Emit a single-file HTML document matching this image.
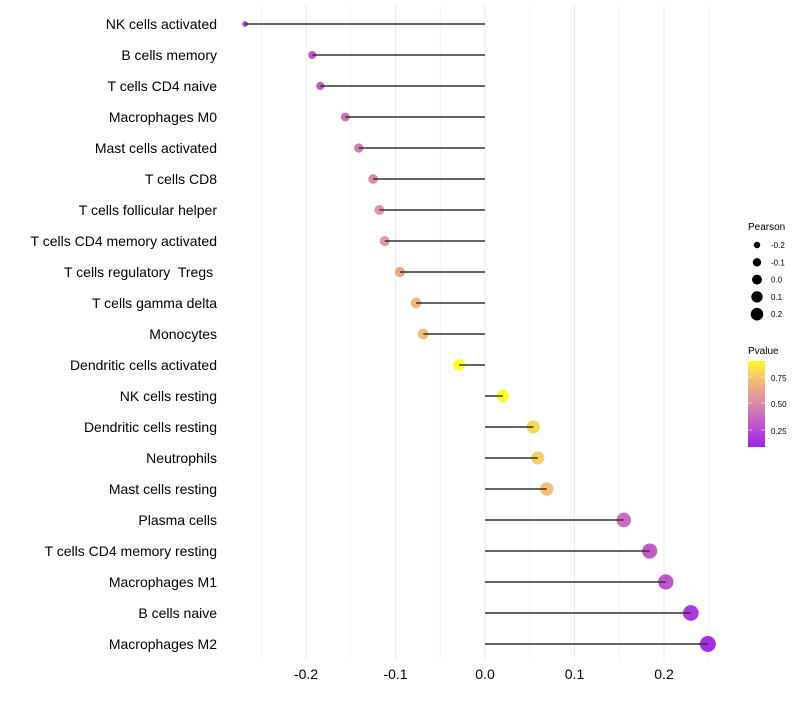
<!DOCTYPE html>
<html><head><meta charset="utf-8"><style>
body{margin:0;background:#fff;font-family:"Liberation Sans",sans-serif}
</style></head><body>
<svg id="chart" width="800" height="700" xmlns="http://www.w3.org/2000/svg" font-family="Liberation Sans, sans-serif">
<defs><linearGradient id="pg" x1="0" y1="1" x2="0" y2="0">
<stop offset="0" stop-color="#a01ff0"/><stop offset="0.5" stop-color="#d98aaa"/><stop offset="0.8" stop-color="#f5c070"/><stop offset="1" stop-color="#ffff20"/></linearGradient></defs>
<g id="grid"></g>
<g id="marks"></g>
<g id="ylab"></g>
<g id="xlab"></g>
<g id="sleg">
<text x="748" y="230" font-size="10">Pearson</text>
</g>
<g>
<text x="748" y="354" font-size="10">Pvalue</text>
<rect x="748" y="361" width="17" height="86" fill="url(#pg)"/>
<line x1="748" x2="752" y1="377" y2="377" stroke="#fff" opacity=".6"/><line x1="761" x2="765" y1="377" y2="377" stroke="#fff" opacity=".6"/>
<line x1="748" x2="752" y1="403" y2="403" stroke="#fff" opacity=".6"/><line x1="761" x2="765" y1="403" y2="403" stroke="#fff" opacity=".6"/>
<line x1="748" x2="752" y1="430" y2="430" stroke="#fff" opacity=".6"/><line x1="761" x2="765" y1="430" y2="430" stroke="#fff" opacity=".6"/>
<text x="771" y="381" font-size="8">0.75</text>
<text x="771" y="407" font-size="8">0.50</text>
<text x="771" y="434" font-size="8">0.25</text>
</g>
</svg>
<script>
const categories=["NK cells activated","B cells memory","T cells CD4 naive","Macrophages M0","Mast cells activated","T cells CD8","T cells follicular helper","T cells CD4 memory activated","T cells regulatory  Tregs ","T cells gamma delta","Monocytes","Dendritic cells activated","NK cells resting","Dendritic cells resting","Neutrophils","Mast cells resting","Plasma cells","T cells CD4 memory resting","Macrophages M1","B cells naive","Macrophages M2"];
const pearson=[-0.268,-0.193,-0.184,-0.156,-0.141,-0.125,-0.118,-0.112,-0.095,-0.077,-0.069,-0.029,0.020,0.054,0.059,0.069,0.155,0.184,0.202,0.230,0.249];
const pvalue=[0.2,0.3,0.33,0.42,0.46,0.5,0.55,0.58,0.65,0.72,0.74,0.89,0.89,0.8,0.78,0.75,0.4,0.32,0.3,0.2,0.15];
const xTicks=[-0.2,-0.1,0.0,0.1,0.2];
const xTickLabels=["-0.2","-0.1","0.0","0.1","0.2"];
const sizeLegend=[-0.2,-0.1,0.0,0.1,0.2];
const NS="http://www.w3.org/2000/svg";
const x=v=>485+v*895;
const y=i=>24+i*31;
const r=v=>Math.max(1.6,Math.sqrt(Math.max(2,37+108*v)));
function mix(a,b,t){return a.map((c,i)=>Math.round(c+(b[i]-c)*t));}
const stops=[[0.1,[160,31,240]],[0.5,[217,138,170]],[0.75,[245,192,112]],[0.89,[255,255,32]]];
function col(p){p=Math.max(0.1,Math.min(0.89,p));for(let k=0;k<stops.length-1;k++){const[a,ca]=stops[k],[b,cb]=stops[k+1];if(p<=b){const c=mix(ca,cb,(p-a)/(b-a));return`rgb(${c})`;}}return"rgb(255,255,32)";}
function mk(tag,at,parent){const e=document.createElementNS(NS,tag);for(const k in at)e.setAttribute(k,at[k]);parent.appendChild(e);return e;}
const grid=document.getElementById('grid');
for(let g=-0.25;g<=0.2501;g+=0.05){
 const major=Math.abs(Math.round(g*20))%2==0;
 const l=mk('line',{x1:x(g),x2:x(g),y1:5,y2:660,stroke:major?'#ebebeb':'#f3f3f3','stroke-width':1},grid);
 
 
}
const marks=document.getElementById('marks'),ylab=document.getElementById('ylab'),xlab=document.getElementById('xlab');
categories.forEach((c,i)=>{
 const cir=mk('circle',{cx:x(pearson[i]),cy:y(i),r:r(pearson[i]),fill:col(pvalue[i])},marks);
 
 
 const ln=mk('line',{x1:x(0),x2:x(pearson[i]),y1:y(i),y2:y(i),stroke:'#333','stroke-width':1.4},marks);
 
 
 const t=mk('text',{x:217,y:y(i)+5,'text-anchor':'end','font-size':14,fill:'#000'},ylab);
 t.setAttribute('xml:space','preserve');
 t.style.whiteSpace='pre';
 t.textContent=c;
 
 
});
xTicks.forEach((v,i)=>{
 const t=mk('text',{x:x(v),y:679,'text-anchor':'middle','font-size':14,fill:'#000'},xlab);
 t.textContent=xTickLabels[i];
 
 
});
const sl=document.getElementById('sleg');
sizeLegend.forEach((v,i)=>{
 const cy=245+i*17.3;
 const c=mk('circle',{cx:757,cy:cy,r:r(v)*0.82,fill:'#000'},sl);
 
 
 const t=mk('text',{x:771,y:cy+3,'font-size':8},sl);
 t.textContent=v.toFixed(1);
 
 
});
</script>
</body></html>
